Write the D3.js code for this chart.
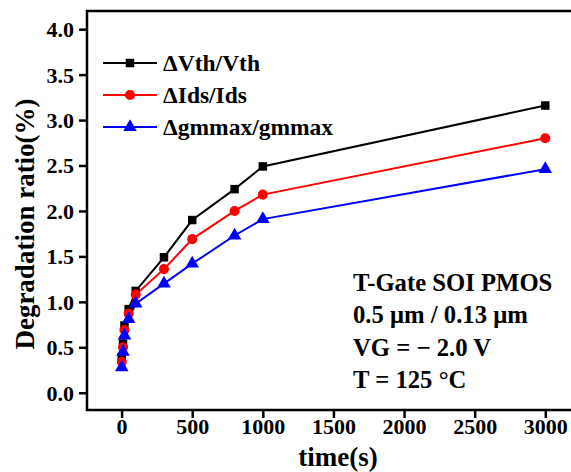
<!DOCTYPE html>
<html>
<head>
<meta charset="utf-8">
<script src="https://cdn.jsdelivr.net/npm/d3@7"></script>
<style>
  html, body { margin: 0; padding: 0; background: #fff; }
  svg { display: block; }
  text { font-family: "Liberation Serif", "Times New Roman", serif; font-weight: bold; fill: #000; }
</style>
</head>
<body>
<svg id="chart" width="571" height="472"></svg>
<script>
// Stress time (s) and degradation ratios (%)
const times = [1, 10, 20, 50, 100, 300, 500, 800, 1000, 3000];
const vthRatio = [0.39, 0.54, 0.74, 0.92, 1.12, 1.49, 1.90, 2.24, 2.49, 3.16];
const idsRatio = [0.34, 0.50, 0.69, 0.87, 1.08, 1.36, 1.69, 2.00, 2.18, 2.80];
const gmRatio  = [0.28, 0.45, 0.63, 0.81, 0.98, 1.20, 1.42, 1.73, 1.91, 2.46];

const xTicks = [0, 500, 1000, 1500, 2000, 2500, 3000];
const yTicks = [0.0, 0.5, 1.0, 1.5, 2.0, 2.5, 3.0, 3.5, 4.0];

const seriesNames = ["\u0394Vth/Vth", "\u0394Ids/Ids", "\u0394gmmax/gmmax"];
const seriesColors = ["#000000", "#ff0000", "#0000ff"];
const seriesShapes = [d3.symbolSquare, d3.symbolCircle, d3.symbolTriangle];

const notes = ["T-Gate SOI PMOS", "0.5 \u03bcm / 0.13 \u03bcm", "VG = \u2212 2.0 V", "T = 125 \u00b0C"];

const svg = d3.select("#chart");
const plot = { left: 87, top: 11, right: 582, bottom: 410 };

const x = d3.scaleLinear().domain([-245, 3260]).range([plot.left, plot.right]);
const y = d3.scaleLinear().domain([-0.19, 4.2]).range([plot.bottom, plot.top]);

// Frame: left, top and bottom edges (right edge lies beyond the view)
svg.append("path")
  .attr("d", `M${plot.right},${plot.top}H${plot.left}V${plot.bottom}H${plot.right}`)
  .attr("fill", "none").attr("stroke", "#000").attr("stroke-width", 2.5);

// Y axis
const yAxis = svg.append("g").attr("transform", `translate(${plot.left},0)`)
  .call(d3.axisLeft(y).tickValues(yTicks).tickFormat(d3.format(".1f")).tickSize(8).tickPadding(5));
yAxis.select(".domain").remove();
yAxis.selectAll(".tick line").attr("stroke-width", 2.5);
yAxis.selectAll(".tick text").attr("font-size", 22).attr("font-family", null).attr("dy", "0.34em");

// X axis
const xAxis = svg.append("g").attr("transform", `translate(0,${plot.bottom})`)
  .call(d3.axisBottom(x).tickValues(xTicks).tickFormat(d3.format("d")).tickSize(8).tickPadding(5));
xAxis.select(".domain").remove();
xAxis.selectAll(".tick line").attr("stroke-width", 2.5);
xAxis.selectAll(".tick text").attr("font-size", 22).attr("font-family", null).attr("dy", "0.5em");

// Axis titles
svg.append("text").attr("x", 338).attr("y", 466).attr("text-anchor", "middle")
  .attr("font-size", 27).text("time(s)");
svg.append("text").attr("transform", "translate(34,224) rotate(-90)").attr("text-anchor", "middle")
  .attr("font-size", 27).text("Degradation ratio(%)");

// Series
const allSeries = [vthRatio, idsRatio, gmRatio];
const line = d3.line().x((d, i) => x(times[i])).y(d => y(d));
function marker(g, shape, color) {
  const size = shape === d3.symbolSquare ? 72 : 80;
  return g.attr("d", d3.symbol(shape, size)()).attr("fill", color);
}
allSeries.forEach((vals, s) => {
  svg.append("path").datum(vals).attr("d", line)
    .attr("fill", "none").attr("stroke", seriesColors[s]).attr("stroke-width", 2);
});
allSeries.forEach((vals, s) => {
  svg.append("g").selectAll("path").data(vals).join("path")
    .attr("transform", (d, i) => `translate(${x(times[i])},${y(d)})`)
    .call(g => marker(g, seriesShapes[s], seriesColors[s]));
});

// Legend
const legend = svg.append("g");
seriesNames.forEach((name, s) => {
  const ly = 63 + s * 32;
  legend.append("line").attr("x1", 103).attr("x2", 157).attr("y1", ly).attr("y2", ly)
    .attr("stroke", seriesColors[s]).attr("stroke-width", 2);
  legend.append("path").attr("transform", `translate(130,${ly})`)
    .call(g => marker(g, seriesShapes[s], seriesColors[s]));
  legend.append("text").attr("x", 163).attr("y", ly).attr("dy", "0.35em")
    .attr("font-size", 23.5).text(name);
});

// Test conditions
svg.append("g").selectAll("text").data(notes).join("text")
  .attr("x", 353).attr("y", (d, i) => 291 + i * 32.3)
  .attr("font-size", 24.7).text(d => d);
</script>
</body>
</html>
